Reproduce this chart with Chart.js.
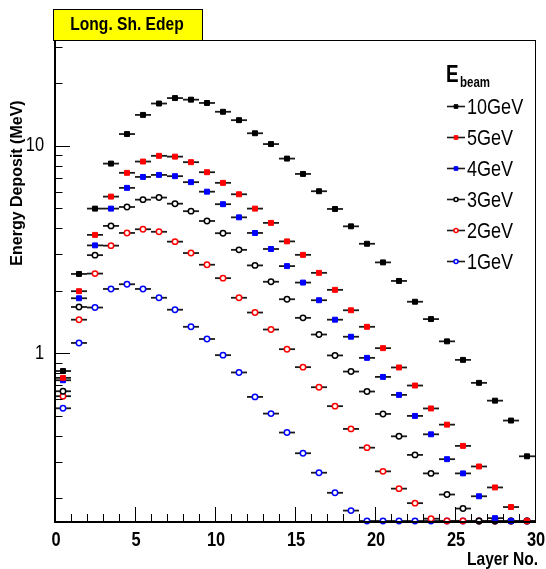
<!DOCTYPE html>
<html>
<head>
<meta charset="utf-8">
<script src="https://cdn.jsdelivr.net/npm/chart.js@4.4.0/dist/chart.umd.min.js"></script>
<style>
  body { margin: 0; background: #fff; }
  canvas { display: block; }
</style>
</head>
<body>
<canvas id="edepChart" width="546" height="569"></canvas>
<script>
// layer centres (bins are 1 layer wide)
const layers = [0.5, 1.5, 2.5, 3.5, 4.5, 5.5, 6.5, 7.5, 8.5, 9.5,
  10.5, 11.5, 12.5, 13.5, 14.5, 15.5, 16.5, 17.5, 18.5, 19.5,
  20.5, 21.5, 22.5, 23.5, 24.5, 25.5, 26.5, 27.5, 28.5, 29.5];

// energy deposit per layer (MeV), values below the axis sit on the floor
const edep10GeV = [0.82, 2.41, 4.98, 8.21, 11.4, 14.1, 16.0, 17.0, 16.7, 16.1,
  14.6, 13.3, 11.5, 10.2, 8.68, 7.32, 6.04, 4.96, 4.09, 3.37,
  2.74, 2.23, 1.77, 1.46, 1.14, 0.928, 0.719, 0.59, 0.473, 0.318];
const edep5GeV = [0.76, 1.99, 3.72, 5.69, 7.41, 8.4, 8.95, 8.87, 8.34, 7.46,
  6.63, 5.84, 4.98, 4.25, 3.46, 2.98, 2.44, 2.02, 1.61, 1.34,
  1.057, 0.853, 0.698, 0.541, 0.452, 0.357, 0.284, 0.225, 0.181, 0.155];
const edep4GeV = [0.74, 1.84, 3.31, 4.98, 6.27, 7.08, 7.24, 7.14, 6.68, 6.01,
  5.23, 4.52, 3.80, 3.18, 2.63, 2.19, 1.80, 1.45, 1.20, 0.949,
  0.768, 0.629, 0.498, 0.406, 0.308, 0.263, 0.204, 0.16, 0.155, 0.155];
const edep3GeV = [0.655, 1.67, 2.97, 4.11, 5.07, 5.50, 5.63, 5.26, 4.84, 4.34,
  3.79, 3.15, 2.65, 2.21, 1.82, 1.48, 1.23, 0.975, 0.815, 0.653,
  0.509, 0.397, 0.323, 0.263, 0.208, 0.178, 0.155, 0.155, 0.155, 0.155];
const edep2GeV = [0.62, 1.45, 2.42, 3.30, 3.80, 3.96, 3.85, 3.45, 3.04, 2.67,
  2.30, 1.85, 1.57, 1.30, 1.045, 0.856, 0.685, 0.555, 0.431, 0.350,
  0.269, 0.222, 0.189, 0.159, 0.155, 0.155, 0.155, 0.155, 0.155, 0.155];
const edep1GeV = [0.542, 1.12, 1.66, 2.04, 2.15, 2.04, 1.85, 1.62, 1.34, 1.17,
  0.978, 0.807, 0.615, 0.511, 0.414, 0.329, 0.265, 0.212, 0.174, 0.155,
  0.155, 0.155, 0.155, 0.155, 0.155, 0.155, 0.155, 0.155, 0.155, 0.155];

const seriesLabels = ['10GeV', '5GeV', '4GeV', '3GeV', '2GeV', '1GeV'];
const xTicks = [0, 5, 10, 15, 20, 25, 30];
const yTickLabels = [1, 10];

const SANS = "'Liberation Sans', Arial, sans-serif";
const SQUEEZE = 0.82; // no narrow face installed, so squeeze the sans one

// draw text squeezed horizontally (Helvetica-narrow look)
function narrowText(ctx, text, x, y, font, align) {
  ctx.save();
  ctx.font = font;
  ctx.textAlign = align || 'left';
  ctx.translate(x, y);
  ctx.scale(SQUEEZE, 1);
  ctx.fillText(text, 0, 0);
  ctx.restore();
}

function makeSet(label, values, style, color) {
  const open = style === 'circle';
  return {
    label: label,
    data: values.map((v, i) => ({ x: layers[i], y: v })),
    showLine: false,
    clip: false,
    pointStyle: style,
    pointRadius: open ? 2.7 : 3.5,
    pointHoverRadius: open ? 2.7 : 3.5,
    pointBorderWidth: open ? 1.5 : 1,
    pointBorderColor: color,
    pointBackgroundColor: open ? '#fff' : color
  };
}

// horizontal error bars (bin width), drawn under the markers
const errorBars = {
  id: 'errorBars',
  beforeDatasetsDraw(chart) {
    const ctx = chart.ctx, xs = chart.scales.x, ys = chart.scales.y;
    ctx.save();
    ctx.strokeStyle = '#1a1a1a';
    ctx.lineWidth = 1.8;
    chart.data.datasets.forEach(ds => {
      ds.data.forEach(p => {
        const y = ys.getPixelForValue(p.y);
        ctx.beginPath();
        ctx.moveTo(xs.getPixelForValue(p.x - 0.5), y);
        ctx.lineTo(xs.getPixelForValue(p.x + 0.5), y);
        ctx.stroke();
      });
    });
    ctx.restore();
  }
};

// frame, inside ticks, tick labels, title box, axis titles and legend
const decorations = {
  id: 'decorations',
  afterDraw(chart) {
    const ctx = chart.ctx, a = chart.chartArea;
    const xs = chart.scales.x, ys = chart.scales.y;
    ctx.save();
    ctx.strokeStyle = '#000';
    ctx.fillStyle = '#000';

    // frame
    ctx.lineWidth = 1;
    ctx.strokeRect(a.left + 0.5, a.top + 0.5, a.right - a.left, a.bottom - a.top);
    ctx.lineWidth = 2;
    ctx.beginPath();
    ctx.moveTo(a.left, a.top);
    ctx.lineTo(a.left, a.bottom + 1);
    ctx.lineTo(a.right + 1, a.bottom + 1);
    ctx.stroke();

    // x ticks
    ctx.lineWidth = 1;
    for (let v = 1; v < 30; v++) {
      const px = Math.round(xs.getPixelForValue(v)) + 0.5;
      const len = v % 5 === 0 ? 14 : 7;
      ctx.beginPath();
      ctx.moveTo(px, a.bottom);
      ctx.lineTo(px, a.bottom - len);
      ctx.stroke();
    }
    // y ticks (log)
    for (let e = -1; e <= 1; e++) {
      for (let k = 1; k <= 9; k++) {
        const v = k * Math.pow(10, e);
        if (v < ys.min || v > ys.max) continue;
        const py = Math.round(ys.getPixelForValue(v)) + 0.5;
        const len = k === 1 ? 15 : 7.5;
        ctx.beginPath();
        ctx.moveTo(a.left, py);
        ctx.lineTo(a.left + len, py);
        ctx.stroke();
      }
    }

    // tick labels
    ctx.textBaseline = 'middle';
    xTicks.forEach(v => {
      narrowText(ctx, String(v), xs.getPixelForValue(v) + 1, 540, 'bold 20px ' + SANS, 'center');
    });
    yTickLabels.forEach(v => {
      narrowText(ctx, String(v), 44, ys.getPixelForValue(v), '20px ' + SANS, 'right');
    });

    // title box
    ctx.fillStyle = '#ffff00';
    ctx.fillRect(53, 9, 149, 31);
    ctx.lineWidth = 1;
    ctx.strokeRect(53.5, 9.5, 149, 31);
    ctx.fillStyle = '#000';
    narrowText(ctx, 'Long. Sh. Edep', 127, 25, 'bold 19px ' + SANS, 'center');

    // axis titles
    narrowText(ctx, 'Layer No.', 538, 560, 'bold 19px ' + SANS, 'right');
    ctx.save();
    ctx.translate(18, 183);
    ctx.rotate(-Math.PI / 2);
    ctx.textAlign = 'center';
    ctx.font = 'bold 16px ' + SANS;
    ctx.fillText('Energy Deposit (MeV)', 0, 0);
    ctx.restore();

    // legend
    ctx.textBaseline = 'alphabetic';
    narrowText(ctx, 'E', 446, 82, 'bold 23px ' + SANS);
    narrowText(ctx, 'beam', 460, 87, 'bold 14px ' + SANS);
    ctx.textBaseline = 'middle';
    chart.data.datasets.forEach((ds, i) => {
      const y = 106.5 + i * 31;
      ctx.strokeStyle = '#1a1a1a';
      ctx.lineWidth = 1.6;
      ctx.beginPath();
      ctx.moveTo(447, y);
      ctx.lineTo(465, y);
      ctx.stroke();
      ctx.fillStyle = ds.pointBackgroundColor;
      ctx.strokeStyle = ds.pointBorderColor;
      ctx.lineWidth = ds.pointBorderWidth;
      Chart.helpers.drawPoint(ctx, {
        pointStyle: ds.pointStyle, rotation: 0,
        radius: ds.pointStyle === 'circle' ? 2 : 2.6,
        borderWidth: ds.pointBorderWidth
      }, 456, y);
      ctx.fillStyle = '#000';
      narrowText(ctx, ds.label, 467, y + 1, '22px ' + SANS);
    });
    ctx.restore();
  }
};

new Chart(document.getElementById('edepChart'), {
  type: 'scatter',
  data: {
    datasets: [
      makeSet(seriesLabels[0], edep10GeV, 'rect', '#000'),
      makeSet(seriesLabels[1], edep5GeV, 'rect', '#ff0000'),
      makeSet(seriesLabels[2], edep4GeV, 'rect', '#0000ff'),
      makeSet(seriesLabels[3], edep3GeV, 'circle', '#000'),
      makeSet(seriesLabels[4], edep2GeV, 'circle', '#ff0000'),
      makeSet(seriesLabels[5], edep1GeV, 'circle', '#0000ff')
    ]
  },
  options: {
    responsive: false,
    animation: false,
    layout: { padding: { top: 40, right: 11, left: 0, bottom: 0 } },
    plugins: {
      legend: { display: false },
      tooltip: { enabled: false }
    },
    scales: {
      x: {
        type: 'linear',
        min: 0,
        max: 30,
        afterBuildTicks: s => { s.ticks = xTicks.map(v => ({ value: v })); },
        afterFit: s => { s.height = 48; s.paddingLeft = 0; s.paddingRight = 0; },
        ticks: { display: false },
        grid: { display: false, drawTicks: false },
        border: { display: false }
      },
      y: {
        type: 'logarithmic',
        min: 0.155,
        max: 32.4,
        afterBuildTicks: s => { s.ticks = yTickLabels.map(v => ({ value: v })); },
        afterFit: s => { s.width = 55; s.paddingTop = 0; s.paddingBottom = 0; },
        ticks: { display: false },
        grid: { display: false, drawTicks: false },
        border: { display: false }
      }
    }
  },
  plugins: [errorBars, decorations]
});
</script>
</body>
</html>
